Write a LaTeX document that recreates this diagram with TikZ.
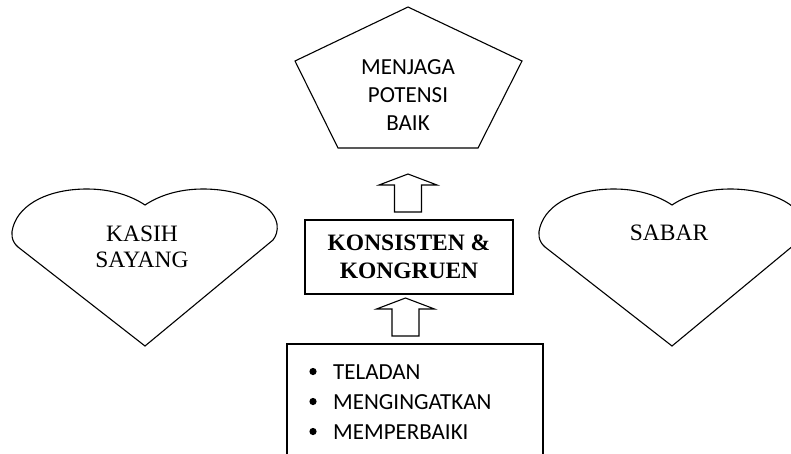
\documentclass[tikz,border=0pt]{standalone}
\usepackage{fontspec}
\setmainfont{Liberation Serif}
\newfontfamily\calib{Carlito}
\newcommand\heartshape{%
  \draw[shapeline] (0,141) -- (-127,42)
    .. controls (-134,36) and (-134,28) .. (-132,22)
    .. controls (-125,-2) and (-95,-16) .. (-58,-16)
    .. controls (-35,-16) and (-15,-10) .. (0,0)
    .. controls (15,-10) and (35,-16) .. (58,-16)
    .. controls (95,-16) and (128,-2) .. (132,19)
    .. controls (133,26) and (131,31) .. (128,35)
    -- cycle;}
\newcommand\blockarrow{%
  \draw[shapeline] (0,0) -- (29,11) -- (13.5,11) -- (13.5,38) -- (-13.5,38)
    -- (-13.5,11) -- (-29,11) -- cycle;}
\begin{document}
\begin{tikzpicture}[x=1pt,y=-1pt,
  shapeline/.style={draw=black, line width=1.1pt, line join=miter},
  cal/.style={font=\calib\fontsize{23}{28}\selectfont, align=center},
  tms/.style={font=\fontsize{23.5}{26}\selectfont, align=center},
  listtext/.style={font=\calib\fontsize{23}{28}\selectfont, anchor=base west, inner sep=0pt},
]
\useasboundingbox (0,0) rectangle (791,453);
\clip (0,0) rectangle (791,453);

% pentagon
\coordinate (pT) at (408,7);
\coordinate (pR) at (522,61);
\coordinate (pBR) at (478,148);
\coordinate (pBL) at (338,148);
\coordinate (pL) at (295,61);
\draw[shapeline] (pT) -- (pR) -- (pBR) -- (pBL) -- (pL) -- cycle;
\node[cal] (pent) at (408,95) {MENJAGA\\POTENSI\\BAIK};

% hearts
\begin{scope}[shift={(145,205)}]\heartshape\end{scope}
\begin{scope}[shift={(672,205)}]\heartshape\end{scope}
\node[tms] (kasih) at (142,247) {KASIH\\SAYANG};
\node[tms] (sabar) at (669,233) {SABAR};

% middle box
\node[shapeline, minimum width=208pt, minimum height=74pt, inner sep=0pt,
  font=\bfseries\fontsize{23.5}{28}\selectfont, align=center] (mid) at (409,257)
  {KONSISTEN \&\\KONGRUEN};

% block arrows
\coordinate (a1) at (408,174);
\coordinate (a2) at (405.5,298);
\begin{scope}[shift={(a1)}]\blockarrow\end{scope}
\begin{scope}[shift={(a2)}]\blockarrow\end{scope}

% bottom box
\coordinate (bTL) at (287,344);
\coordinate (bBR) at (543,470);
\draw[shapeline] (bTL) rectangle (bBR);
\foreach \t/\y [count=\i] in {TELADAN/379, MENGINGATKAN/409, MEMPERBAIKI/439}{
  \fill (313,\y-7.5) circle (3.6pt);
  \node[listtext] (item\i) at (333,\y) {\t};
}
\end{tikzpicture}
\end{document}
